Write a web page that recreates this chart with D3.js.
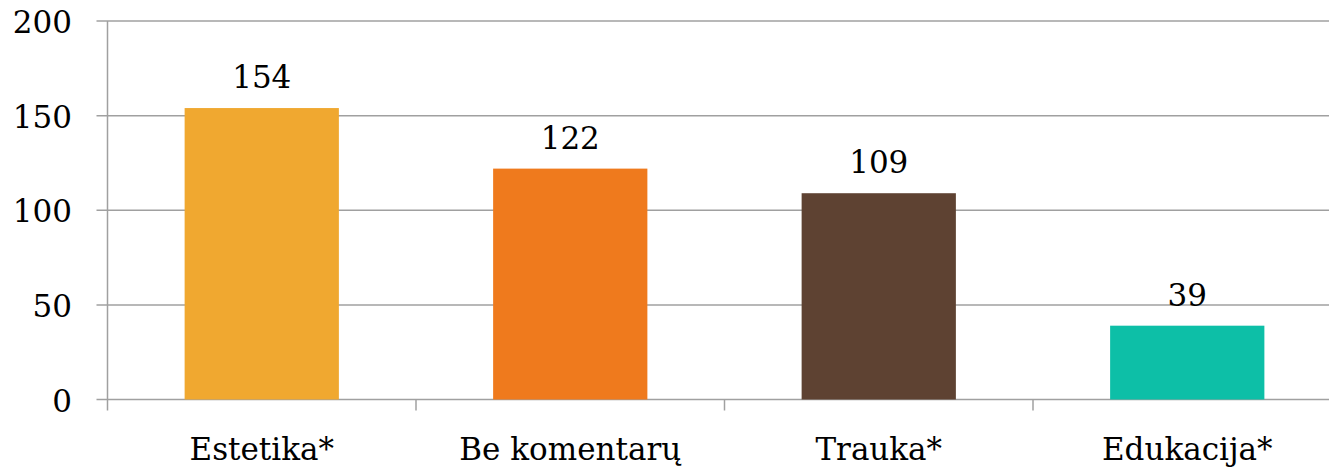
<!DOCTYPE html>
<html>
<head>
<meta charset="utf-8">
<script src="https://cdn.jsdelivr.net/npm/d3@7"></script>
<style>
html,body{margin:0;padding:0;background:#fff;}
svg{display:block;}
text{font-family:"DejaVu Serif","Liberation Serif",serif;fill:#000;}
</style>
</head>
<body>
<svg id="chart" width="1329" height="469"></svg>
<script>
const categories = ["Estetika*", "Be komentarų", "Trauka*", "Edukacija*"];
const values = [154, 122, 109, 39];
const colors = ["#F0A830", "#EF7A1D", "#5E4232", "#0DBFA7"];
const yTicks = [0, 50, 100, 150, 200];

(function () {
const svg = d3.select("#chart");
const mLeft = 107.5, mRight = 1341.5, mTop = 21, mBottom = 399.5;
const fontSize = 31;

const x = d3.scaleBand().domain(categories).range([mLeft, mRight])
  .paddingInner(0.5).paddingOuter(0.25);
const y = d3.scaleLinear().domain([0, 200]).range([mBottom, mTop]);

svg.append("g").selectAll("line").data(yTicks).join("line")
  .attr("x1", mLeft - 11).attr("x2", 1329)
  .attr("y1", d => y(d)).attr("y2", d => y(d))
  .attr("stroke", "#A0A0A0").attr("stroke-width", 1.5);

svg.append("line").attr("x1", mLeft).attr("x2", mLeft)
  .attr("y1", mTop).attr("y2", mBottom + 11)
  .attr("stroke", "#A0A0A0").attr("stroke-width", 1.5);

const gap = (x.step() - x.bandwidth()) / 2;
const bounds = categories.slice(1).map(c => x(c) - gap);
svg.append("g").selectAll("line").data(bounds).join("line")
  .attr("x1", d => d).attr("x2", d => d)
  .attr("y1", mBottom).attr("y2", mBottom + 11)
  .attr("stroke", "#A0A0A0").attr("stroke-width", 1.5);

svg.append("g").selectAll("text").data(yTicks).join("text")
  .attr("x", 72).attr("y", d => y(d) + 12)
  .attr("text-anchor", "end").attr("font-size", fontSize)
  .text(d => d);

svg.append("g").selectAll("rect").data(values).join("rect")
  .attr("x", (d, i) => x(categories[i]))
  .attr("width", x.bandwidth())
  .attr("y", d => y(d))
  .attr("height", d => mBottom - y(d))
  .attr("fill", (d, i) => colors[i]);

svg.append("g").selectAll("text").data(values).join("text")
  .attr("x", (d, i) => x(categories[i]) + x.bandwidth() / 2)
  .attr("y", d => y(d) - 20)
  .attr("text-anchor", "middle").attr("font-size", fontSize)
  .text(d => d);

svg.append("g").selectAll("text").data(categories).join("text")
  .attr("x", d => x(d) + x.bandwidth() / 2)
  .attr("y", 460)
  .attr("text-anchor", "middle").attr("font-size", fontSize)
  .text(d => d);
})();
</script>
</body>
</html>
